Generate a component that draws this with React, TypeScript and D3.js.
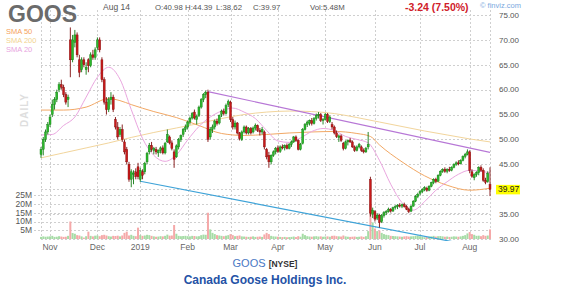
import React, { useEffect, useRef } from "react";
import * as d3 from "d3";

// Daily bars [open, high, low, close]
const octBars = [
  [47.0, 48.5, 46.3, 48.0], [48.0, 50.5, 46.8, 50.0], [50.0, 52.0, 49.5, 51.5], [51.5, 53.5, 51.0, 53.0],
];
const novBars = [
  [53.0, 55.0, 52.5, 54.5], [55.0, 58.0, 54.5, 57.0], [57.0, 58.5, 56.0, 58.0], [58.0, 60.0, 57.5, 59.5],
  [60.0, 61.5, 59.5, 61.0], [61.0, 62.0, 60.0, 60.5], [60.5, 61.0, 58.5, 59.0], [59.0, 59.5, 57.0, 57.5],
  [58.0, 59.0, 56.5, 58.5], [70.0, 72.5, 62.5, 66.0], [66.0, 71.0, 65.5, 70.0], [69.5, 72.0, 68.5, 71.0],
  [71.0, 71.5, 66.5, 67.0], [66.0, 67.0, 62.5, 63.5], [64.0, 66.5, 63.5, 66.0], [66.0, 66.5, 64.5, 65.0],
  [64.0, 65.5, 63.0, 64.5], [66.0, 66.3, 63.5, 64.8], [64.8, 67.5, 64.5, 67.0], [67.0, 68.0, 66.0, 66.5],
  [66.5, 68.5, 66.0, 68.0],
];
const decBars = [
  [68.5, 70.5, 68.0, 70.0], [70.0, 70.5, 67.5, 68.0], [66.0, 66.5, 61.5, 62.0], [62.0, 62.5, 57.0, 57.5],
  [57.5, 58.5, 55.0, 56.0], [56.0, 58.5, 55.5, 58.0], [58.0, 59.5, 57.0, 58.5], [58.5, 59.0, 55.5, 56.0],
  [54.0, 54.5, 52.0, 52.5], [52.5, 53.5, 50.0, 50.5], [51.0, 52.5, 50.5, 52.0], [52.0, 53.0, 49.5, 50.0],
  [49.5, 50.0, 47.0, 47.5], [48.0, 48.5, 45.0, 45.5], [45.0, 45.5, 41.5, 42.0], [42.0, 44.0, 40.4, 43.5],
  [43.0, 43.8, 41.0, 43.2], [43.5, 44.2, 42.0, 42.5], [44.5, 45.3, 42.0, 42.5],
];
const janBars = [
  [42.0, 44.3, 41.5, 43.8], [43.5, 44.0, 42.0, 42.8], [43.5, 45.5, 43.0, 45.2], [45.5, 47.5, 45.0, 47.2],
  [47.5, 49.3, 47.0, 48.8], [48.8, 49.5, 47.5, 48.0], [47.8, 48.5, 47.0, 48.2], [48.0, 48.5, 47.0, 47.5],
  [47.3, 48.0, 46.5, 47.8], [47.8, 48.6, 47.2, 48.3], [48.3, 48.8, 47.0, 47.3], [47.3, 49.5, 47.0, 49.2],
  [49.5, 52.0, 49.3, 51.0], [50.5, 50.8, 49.0, 49.3], [49.3, 49.8, 47.8, 48.2], [47.5, 48.0, 44.3, 46.0],
  [46.5, 49.0, 46.3, 48.7], [48.5, 50.3, 48.0, 50.0], [50.0, 51.0, 49.5, 50.8], [51.0, 52.3, 50.5, 52.0],
  [52.0, 53.0, 51.5, 52.5],
];
const febBars = [
  [52.5, 53.8, 52.0, 53.5], [53.5, 54.6, 53.0, 54.3], [54.3, 55.5, 54.0, 55.2], [55.5, 56.0, 54.0, 54.3],
  [54.0, 55.0, 53.0, 54.6], [54.8, 56.8, 54.5, 56.5], [56.5, 58.3, 56.2, 58.0], [58.0, 59.3, 57.5, 59.0],
  [59.0, 59.8, 58.3, 59.5], [59.5, 60.0, 49.5, 50.0], [50.5, 52.5, 50.0, 52.0], [52.0, 53.0, 51.3, 52.5],
  [52.5, 54.0, 52.0, 53.7], [53.7, 54.2, 52.8, 53.2], [53.3, 55.0, 53.0, 54.8], [55.0, 56.0, 54.5, 55.7],
  [55.7, 56.2, 54.8, 55.2], [55.2, 57.2, 55.0, 56.8], [57.0, 58.0, 56.5, 57.6],
];
const marBars = [
  [57.5, 57.8, 53.5, 54.0], [54.0, 54.5, 52.0, 52.5], [52.5, 53.8, 52.0, 53.3], [53.3, 53.5, 51.0, 51.3],
  [51.3, 51.5, 49.8, 50.2], [50.0, 51.8, 49.7, 51.5], [51.5, 52.8, 51.2, 52.5], [52.5, 52.8, 51.0, 51.3],
  [51.3, 52.5, 51.0, 52.2], [52.2, 52.5, 51.0, 51.3], [51.5, 52.6, 51.2, 52.3], [52.3, 53.2, 51.8, 52.8],
  [52.8, 53.0, 51.5, 51.8], [51.8, 52.3, 50.8, 51.5], [51.5, 52.5, 51.0, 52.0], [51.5, 51.8, 48.0, 48.5],
  [48.0, 48.3, 46.0, 46.5], [46.8, 47.5, 44.3, 45.5], [45.5, 47.0, 45.0, 46.8], [46.8, 47.8, 46.5, 47.5],
  [47.5, 48.5, 47.0, 48.2],
];
const aprBars = [
  [48.3, 48.8, 47.3, 47.6], [47.6, 48.8, 47.3, 48.5], [48.5, 49.0, 48.0, 48.3], [48.3, 49.0, 47.8, 48.8],
  [48.8, 49.2, 48.0, 48.2], [48.2, 49.3, 48.0, 49.0], [49.0, 49.8, 48.5, 49.5], [49.5, 50.7, 49.3, 50.5],
  [50.5, 50.8, 49.5, 49.8], [49.8, 50.0, 47.8, 48.0], [48.0, 49.3, 47.8, 49.0], [49.2, 52.3, 49.0, 52.0],
  [52.0, 53.3, 51.8, 53.0], [53.0, 53.8, 52.5, 53.5], [53.3, 54.0, 52.8, 53.8], [53.8, 54.3, 52.8, 53.2],
  [53.2, 54.5, 53.0, 54.2], [54.2, 55.2, 53.8, 54.8], [54.8, 55.5, 54.2, 55.0], [55.0, 55.3, 53.5, 53.8],
  [53.8, 54.3, 53.0, 54.0],
];
const mayBars = [
  [54.0, 55.3, 53.8, 55.0], [55.0, 55.3, 53.3, 53.6], [53.6, 54.8, 53.3, 54.5], [53.0, 53.5, 52.0, 52.5],
  [52.5, 52.8, 51.0, 51.3], [51.3, 51.8, 50.3, 50.6], [50.4, 51.0, 49.5, 50.7], [50.7, 51.0, 49.5, 49.8],
  [49.2, 49.5, 47.8, 48.2], [48.2, 49.8, 48.0, 49.5], [49.5, 50.0, 48.8, 49.8], [49.8, 50.3, 49.3, 49.5],
  [49.5, 49.8, 48.3, 48.5], [48.5, 48.8, 47.5, 47.8], [47.8, 48.8, 47.6, 48.5], [48.5, 49.3, 48.2, 49.0],
  [48.5, 48.8, 47.5, 47.8], [47.8, 48.2, 47.2, 47.5], [47.5, 48.5, 47.3, 48.2], [48.5, 51.5, 48.0, 49.0],
  [42.0, 42.5, 34.5, 35.2], [35.0, 36.3, 34.2, 35.8],
];
const junBars = [
  [35.5, 35.8, 33.5, 34.0], [34.2, 35.2, 33.8, 34.8], [34.8, 35.0, 32.3, 33.3], [33.5, 35.0, 33.2, 34.7],
  [34.7, 35.6, 34.3, 35.3], [35.3, 35.8, 34.8, 35.5], [35.5, 36.3, 35.3, 36.0], [36.0, 36.2, 35.3, 35.6],
  [35.6, 36.5, 35.5, 36.3], [36.3, 36.8, 35.9, 36.5], [36.5, 37.0, 36.0, 36.8], [36.8, 37.2, 36.3, 36.6],
  [36.6, 37.1, 36.2, 36.9], [36.9, 37.3, 36.3, 36.5], [36.5, 36.8, 35.8, 36.0], [36.0, 36.3, 35.2, 35.5],
  [35.6, 36.8, 35.4, 36.6], [36.6, 37.8, 36.5, 37.6], [37.6, 38.8, 37.4, 38.5], [38.5, 39.3, 38.2, 39.0],
];
const julBars = [
  [39.2, 39.8, 38.8, 39.5], [39.5, 40.2, 39.2, 39.9], [39.9, 40.6, 39.6, 40.3], [40.2, 40.5, 39.5, 39.8],
  [39.8, 40.8, 39.6, 40.6], [40.6, 41.5, 40.4, 41.3], [41.3, 42.2, 41.0, 42.0], [42.0, 42.3, 41.2, 41.6],
  [41.6, 43.0, 41.5, 42.8], [42.8, 43.8, 42.6, 43.6], [43.6, 44.2, 43.3, 44.0], [44.0, 44.4, 43.3, 43.6],
  [43.6, 44.2, 43.2, 44.0], [44.0, 44.5, 43.5, 43.8], [43.8, 44.6, 43.6, 44.4], [44.4, 45.2, 44.2, 45.0],
  [45.0, 45.6, 44.7, 45.3], [45.3, 45.8, 44.8, 45.1], [45.1, 46.0, 45.0, 45.8], [45.8, 46.8, 45.6, 46.6],
  [46.6, 47.3, 46.2, 47.0], [47.0, 48.0, 46.8, 47.5],
];
const augBars = [
  [47.5, 47.8, 43.2, 43.8], [43.5, 44.0, 42.3, 42.6], [42.3, 43.2, 41.8, 42.9], [42.9, 43.6, 42.5, 43.3],
  [43.3, 44.6, 42.8, 44.4], [44.4, 44.8, 43.5, 43.8], [43.8, 44.2, 41.5, 41.8], [41.8, 42.3, 41.0, 41.4],
  [41.5, 43.6, 41.3, 43.21], [40.98, 44.39, 38.62, 39.97],
];

// Volume, millions
const volOct = [1.2, 1.5, 1.3, 1.4];
const volNov = [1.5, 1.8, 1.2, 1.3, 1.6, 1.4, 1.2, 1.3, 1.8, 10, 3.4, 3.0, 2.2, 2.0, 1.5, 0.8, 1.6, 4.2, 1.8, 1.5, 1.9];
const volDec = [2.0, 1.6, 2.2, 2.4, 2.0, 1.6, 1.4, 1.8, 1.7, 1.9, 1.5, 2.0, 3.5, 4.2, 2.0, 2.4, 1.8, 1.6, 6.5];
const volJan = [2.2, 1.8, 2.0, 2.4, 2.2, 1.8, 1.5, 1.3, 1.4, 1.6, 1.5, 1.8, 2.5, 1.9, 2.0, 8.0, 3.0, 1.8, 1.6, 1.7, 1.8];
const volFeb = [1.6, 1.5, 1.8, 1.7, 1.5, 1.6, 2.2, 2.5, 2.4, 15, 5.5, 3.5, 2.8, 2.2, 2.0, 1.8, 1.6, 1.9, 2.2];
const volMar = [2.8, 2.2, 1.6, 1.8, 2.0, 1.5, 1.4, 1.3, 1.2, 1.3, 1.5, 1.2, 1.3, 1.4, 1.2, 2.6, 3.5, 2.8, 1.8, 1.5, 1.4];
const volApr = [1.3, 1.2, 1.1, 1.2, 1.0, 1.1, 1.2, 1.4, 1.1, 1.6, 1.3, 3.0, 2.2, 1.6, 1.4, 1.3, 1.5, 1.6, 1.4, 1.5, 1.3];
const volMay = [1.4, 1.5, 1.3, 1.8, 1.9, 1.6, 1.5, 1.4, 2.0, 1.5, 1.3, 1.2, 1.3, 1.4, 1.2, 1.3, 1.5, 1.2, 1.6, 4.5, 20, 9.5];
const volJun = [6.0, 4.5, 4.8, 3.5, 2.8, 2.4, 2.2, 1.8, 1.7, 1.6, 1.5, 1.4, 1.3, 1.5, 1.6, 1.4, 1.5, 1.6, 1.8, 2.0];
const volJul = [1.6, 1.4, 1.0, 1.1, 1.3, 1.5, 1.8, 1.4, 1.6, 1.7, 1.5, 1.3, 1.4, 1.2, 1.3, 1.5, 1.4, 1.3, 1.5, 1.8, 2.2, 3.2];
const volAug = [4.0, 2.8, 2.4, 1.8, 1.9, 1.6, 2.2, 1.8, 2.0, 5.48];

const monthLabels = ["Nov", "Dec", "2019", "Feb", "Mar", "Apr", "May", "Jun", "Jul", "Aug"];
const priceTicks = [30, 35, 40, 45, 50, 55, 60, 65, 70, 75];
const volTicks = [5, 10, 15, 20, 25];
const headerStats = ["O:40.98", "H:44.39", "L:38.62", "C:39.97", "Vol:5.48M"];

// Moving averages sampled [day index, value]
const sma20 = [[0, 50.9], [5, 51], [10, 52.8], [15, 54.5], [20, 58.5], [25, 62.5], [30, 64.5], [35, 62.1], [40, 56], [45, 50.2], [50, 46.8], [55, 45.6], [60, 46.9], [65, 49.9], [70, 52.6], [75, 54.5], [80, 55.7], [85, 56.3], [90, 55.5], [95, 54.2], [100, 51.8], [105, 49.7], [110, 49.4], [115, 50.3], [120, 51.6], [125, 52.2], [130, 51.8], [135, 50.6], [140, 50], [145, 49.3], [150, 45.8], [155, 41], [160, 37.3], [165, 35.8], [170, 37.5], [175, 39.8], [180, 41.5], [185, 43], [190, 43.8], [195, 43.6], [199, 43.3]];
const sma50 = [[0, 55.9], [10, 55.9], [20, 56.5], [30, 58.2], [35, 57.8], [40, 57], [50, 55.6], [60, 54.4], [70, 52.8], [80, 51.2], [90, 50.8], [100, 51], [110, 51.3], [120, 51.5], [130, 51.6], [140, 51.2], [146, 50.6], [150, 48.9], [160, 45.5], [170, 42.7], [180, 40.8], [190, 39.8], [199, 40.2]];
const sma200 = [[0, 46.3], [10, 47.3], [20, 48.3], [30, 49.3], [40, 50.4], [50, 51.4], [60, 52.3], [70, 53.2], [80, 54.2], [90, 55], [100, 55.5], [110, 55.7], [120, 55.6], [130, 55.2], [140, 54.4], [150, 53.5], [160, 52.6], [170, 51.7], [180, 50.9], [190, 50.1], [199, 49.5]];

// Trend lines [day index, price]
const resistanceLine = [[74, 59.6], [199, 47.4]];
const supportLine = [[44, 41.6], [199, 28.0]];

const FONT = "Arial, 'Liberation Sans', Helvetica, sans-serif";

export default function App() {
  const ref = useRef<SVGSVGElement>(null);

  useEffect(() => {
    const bars = [...octBars, ...novBars, ...decBars, ...janBars, ...febBars, ...marBars, ...aprBars, ...mayBars, ...junBars, ...julBars, ...augBars];
    const vols = [...volOct, ...volNov, ...volDec, ...volJan, ...volFeb, ...volMar, ...volApr, ...volMay, ...volJun, ...volJul, ...volAug];
    const monthGroups = [novBars, decBars, janBars, febBars, marBars, aprBars, mayBars, junBars, julBars, augBars];
    const monthStarts: number[] = [];
    let acc = octBars.length;
    monthGroups.forEach((g) => { monthStarts.push(acc); acc += g.length; });

    const n = bars.length;
    const left = 41, right = 490, top = 10, bottom = 241;
    const x = d3.scaleLinear().domain([0, n - 1]).range([left, right]);
    const y = d3.scaleLinear().domain([30, 75]).range([239, 15]);
    const yv = d3.scaleLinear().domain([0, 25]).range([239, 195.25]);

    const svg = d3.select(ref.current);
    svg.selectAll("*").remove();
    svg.append("rect").attr("width", 576).attr("height", 292).attr("fill", "#fff");

    svg.append("defs").append("clipPath").attr("id", "plotclip")
      .append("rect").attr("x", left).attr("y", top).attr("width", right - left).attr("height", bottom - top);

    const grid = svg.append("g").attr("stroke", "#cfcfcf").attr("stroke-width", 1).attr("stroke-dasharray", "2,2");
    priceTicks.forEach((p) => {
      const yy = Math.round(y(p)) + 0.5;
      grid.append("line").attr("x1", left).attr("x2", right).attr("y1", yy).attr("y2", yy);
    });
    volTicks.forEach((v) => {
      const yy = Math.round(yv(v)) + 0.5;
      grid.append("line").attr("x1", 34).attr("x2", right).attr("y1", yy).attr("y2", yy);
    });
    [0, ...monthStarts, n - 1].forEach((i) => {
      const xx = Math.round(x(i)) + 0.5;
      grid.append("line").attr("x1", xx).attr("x2", xx).attr("y1", top).attr("y2", bottom);
    });

    // Volume
    const vg = svg.append("g");
    vols.forEach((v, i) => {
      const b = bars[i];
      const up = b[3] >= b[0];
      vg.append("rect")
        .attr("x", x(i) - 1)
        .attr("y", yv(v))
        .attr("width", 2)
        .attr("height", yv(0) - yv(v))
        .attr("fill", up ? "#a6dca6" : "#f5a9a9");
    });

    // DAILY watermark
    svg.append("text").attr("transform", "translate(28,110) rotate(-90)")
      .attr("text-anchor", "middle").attr("font-family", FONT).attr("font-size", 10)
      .attr("font-weight", "bold").attr("fill", "#dedede").attr("letter-spacing", 1).text("DAILY");

    const plot = svg.append("g").attr("clip-path", "url(#plotclip)");
    const line = d3.line<number[]>().x((d) => x(d[0])).y((d) => y(d[1])).curve(d3.curveMonotoneX);
    plot.append("path").attr("d", line(sma200 as any)).attr("fill", "none").attr("stroke", "#f2d59c").attr("stroke-width", 1);
    plot.append("path").attr("d", line(sma50 as any)).attr("fill", "none").attr("stroke", "#f2a865").attr("stroke-width", 1);
    plot.append("path").attr("d", line(sma20 as any)).attr("fill", "none").attr("stroke", "#eaa6df").attr("stroke-width", 1);

    // Candles
    const cg = svg.append("g");
    bars.forEach((b, i) => {
      const [o, h, l, c] = b;
      const up = c >= o;
      const cx = x(i);
      const dark = up ? "#127a12" : "#7e0c0c";
      cg.append("line").attr("x1", cx).attr("x2", cx).attr("y1", y(h)).attr("y2", y(l))
        .attr("stroke", dark).attr("stroke-width", 0.9);
      const y0 = Math.min(y(o), y(c));
      const hh = Math.max(Math.abs(y(o) - y(c)), 0.9);
      cg.append("rect").attr("x", cx - 1).attr("y", y0).attr("width", 2).attr("height", hh)
        .attr("fill", up ? "#2cb82c" : "#c81a1a").attr("stroke", dark).attr("stroke-width", 0.4);
    });

    const tl = d3.line<number[]>().x((d) => x(d[0])).y((d) => y(d[1]));
    plot.append("path").attr("d", tl(resistanceLine as any)).attr("stroke", "#b777d6").attr("stroke-width", 1.2).attr("fill", "none");
    plot.append("path").attr("d", tl(supportLine as any)).attr("stroke", "#3ea3d8").attr("stroke-width", 1.2).attr("fill", "none");

    // Last price highlight box (drawn before text)
    const last = bars[n - 1][3];
    svg.append("rect").attr("x", 496).attr("y", y(last) - 4.5).attr("width", 24).attr("height", 9.5).attr("fill", "#ffff00");

    // Axis labels
    const txt = svg.append("g").attr("font-family", FONT);
    priceTicks.filter((p) => p !== 40).forEach((p) => {
      txt.append("text").attr("x", 499).attr("y", y(p)).attr("dy", "0.35em")
        .attr("font-size", 8).attr("fill", "#555").text(p.toFixed(2));
    });
    txt.append("text").attr("x", 498).attr("y", y(last)).attr("dy", "0.35em")
      .attr("font-size", 8.5).attr("fill", "#222").text(last.toFixed(2));

    volTicks.forEach((v) => {
      txt.append("text").attr("x", 32).attr("y", yv(v)).attr("dy", "0.35em").attr("text-anchor", "end")
        .attr("font-size", 8.5).attr("fill", "#555").text(`${v}M`);
    });
    monthStarts.forEach((i, k) => {
      txt.append("text").attr("x", x(i)).attr("y", 250).attr("text-anchor", "middle")
        .attr("font-size", 8.5).attr("fill", "#666").text(monthLabels[k]);
    });

    // Header
    txt.append("text").attr("x", 8).attr("y", 22).attr("font-size", 23).attr("font-weight", "bold").attr("fill", "#6b6b6b").text("GOOS");
    txt.append("text").attr("x", 103).attr("y", 10).attr("font-size", 8.5).attr("fill", "#555").text("Aug 14");
    const statX = [155, 185, 216, 253, 310];
    headerStats.forEach((t, k) => {
      txt.append("text").attr("x", statX[k]).attr("y", 10).attr("font-size", 7.8).attr("fill", "#555").text(t);
    });
    txt.append("text").attr("x", 405).attr("y", 11).attr("font-size", 10.5).attr("font-weight", "bold").attr("fill", "#d0202a").text("-3.24 (7.50%)");
    txt.append("text").attr("x", 480).attr("y", 8).attr("font-size", 7.5).attr("fill", "#7aa8de").text("\u00a9 finviz.com");
    txt.append("text").attr("x", 6).attr("y", 34).attr("font-size", 7.5).attr("fill", "#f5a25c").text("SMA 50");
    txt.append("text").attr("x", 6).attr("y", 43).attr("font-size", 7.5).attr("fill", "#f2d38f").text("SMA 200");
    txt.append("text").attr("x", 6).attr("y", 51.5).attr("font-size", 7.5).attr("fill", "#e8a4e0").text("SMA 20");

    // Footer
    const foot = txt.append("text").attr("x", 265).attr("y", 267).attr("text-anchor", "middle");
    foot.append("tspan").attr("font-size", 11).attr("fill", "#4a78c4").text("GOOS ");
    foot.append("tspan").attr("font-size", 8.5).attr("font-weight", "bold").attr("fill", "#333").text("[NYSE]");
    txt.append("text").attr("x", 265).attr("y", 284).attr("text-anchor", "middle").attr("font-size", 12)
      .attr("font-weight", "bold").attr("fill", "#2452a6").text("Canada Goose Holdings Inc.");
  }, []);

  return (
    <svg ref={ref} width={576} height={292} style={{ position: "absolute", left: 0, top: 0 }} />
  );
}
